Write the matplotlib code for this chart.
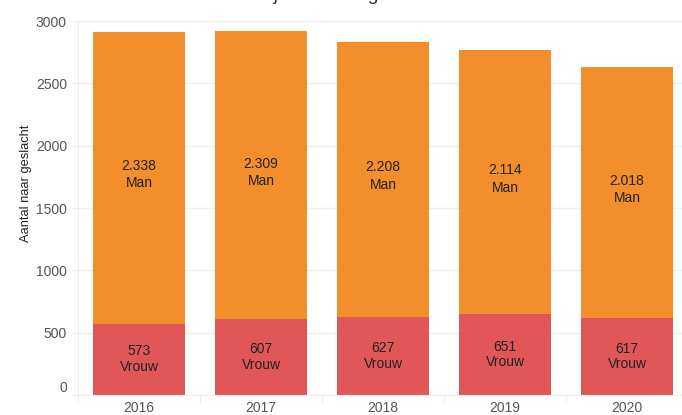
import numpy as np
import matplotlib.pyplot as plt

plt.rcParams['font.family'] = ['Liberation Sans', 'DejaVu Sans']

years = ['2016', '2017', '2018', '2019', '2020']
vrouw = [573, 607, 627, 651, 617]
man = [2338, 2309, 2208, 2114, 2018]
man_labels = ['2.338', '2.309', '2.208', '2.114', '2.018']

c_vrouw = '#E15759'
c_man = '#F28E2B'

fig = plt.figure(figsize=(6.82, 4.15), dpi=100)
# axes deliberately runs a bit past the right edge, like the reference crop
ax = fig.add_axes([78/682, 20/415, 610/682, 374/415])

x = np.arange(len(years))
ax.bar(x, vrouw, width=0.76, color=c_vrouw, zorder=2)
ax.bar(x, man, bottom=vrouw, width=0.76, color=c_man, zorder=2)

for i in range(len(years)):
    ax.text(x[i], vrouw[i] / 2, f'{vrouw[i]}\nVrouw', ha='center', va='center',
            fontsize=10, color='#222222', linespacing=1.15, zorder=3)
    ax.text(x[i], vrouw[i] + man[i] / 2 + 25, f'{man_labels[i]}\nMan', ha='center', va='center',
            fontsize=10, color='#222222', linespacing=1.3, zorder=3)

ax.set_xlim(-0.5, 4.5)
ax.set_ylim(0, 3000)
ax.set_yticks(np.arange(0, 3001, 500))
ax.set_xticks(x)
ax.set_xticklabels(years)
ax.set_xticks(np.arange(-0.5, 5, 1), minor=True)
ax.tick_params(axis='x', which='major', length=0, pad=4.5, labelsize=10, labelcolor='#555555')
ax.tick_params(axis='x', which='minor', length=5, color='#e6e6e6')
ax.tick_params(axis='y', length=5, color='#eeeeee', labelsize=10, labelcolor='#555555', pad=3)
ax.grid(axis='y', color='#efefef', linewidth=1, zorder=0)
ax.get_yticklabels()[0].set_va('bottom')

for s in ['top', 'right']:
    ax.spines[s].set_visible(False)
ax.spines['left'].set_color('#eeeeee')
ax.spines['bottom'].set_color('#eeeeee')

ax.set_ylabel('Aantal naar geslacht', fontsize=9.3, color='#222222')
ax.yaxis.set_label_coords(-0.076, 0.567)

# title sits above the visible area, only descenders show
prefix = 'Aantal cliënten in de '
title = prefix + 'jaren naar geslacht'
fig.canvas.draw()
tmp = fig.text(0, 0, prefix, fontsize=14)
w = tmp.get_window_extent(fig.canvas.get_renderer()).width
tmp.remove()
fig.text((274 - w) / 682, 1.0, title, ha='left', va='baseline',
         fontsize=14, color='#333333')

fig.savefig('out.png', dpi=100)
